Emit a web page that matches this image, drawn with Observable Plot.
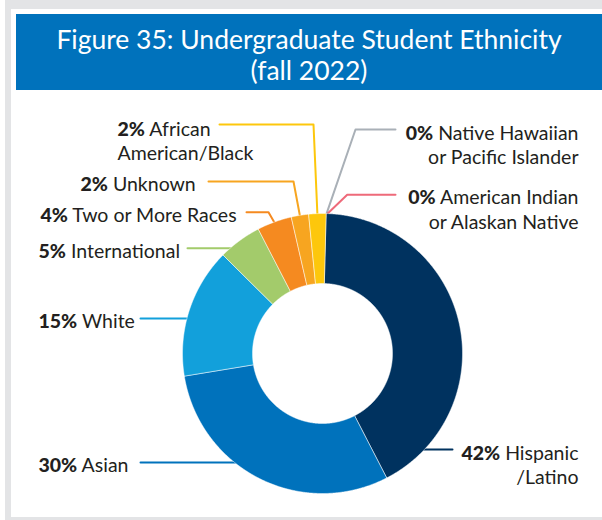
<!DOCTYPE html>
<html>
<head>
<meta charset="utf-8">
<script src="https://cdn.jsdelivr.net/npm/d3@7"></script>
<script src="https://cdn.jsdelivr.net/npm/@observablehq/plot@0.6"></script>
<style>
  body { margin: 0; background: #fff; }
  #wrap { position: relative; width: 602px; height: 520px; overflow: hidden; font-family: Lato, "Open Sans", sans-serif; }
  .band { position: absolute; background: #e3e4e6; }
  #title { position: absolute; left: 16px; top: 14px; width: 586px; height: 76px; box-sizing: border-box;
           background: #0072bc; color: #fff; text-align: center; font-size: 26.5px; line-height: 31px; padding-top: 10px; }
  #chart { position: absolute; left: 0; top: 90px; }
</style>
</head>
<body>
<div id="wrap">
  <div id="title"><div>Figure 35: Undergraduate Student Ethnicity</div><div>(fall 2022)</div></div>
  <div id="chart"></div>
  <div class="band" style="left:5px;top:0;width:597px;height:9px"></div>
  <div class="band" style="left:5px;top:0;width:6px;height:520px"></div>
  <div class="band" style="left:5px;top:517px;width:597px;height:3px"></div>
</div>
<script>
// ---- data ----
const categories = ["Hispanic/Latino", "Asian", "White", "International", "Two or More Races",
  "Unknown", "African American/Black", "Native Hawaiian or Pacific Islander", "American Indian or Alaskan Native"];
const values = [42, 30, 15, 5, 4, 2, 2, 0, 0];
const labelNames = ["Hispanic\n/Latino", "Asian", "White", "International", "Two or More Races",
  "Unknown", "African\nAmerican/Black", "Native Hawaiian\nor Pacific Islander", "American Indian\nor Alaskan Native"];
const colors = ["#00325f", "#0072bc", "#12a0db", "#a3cb6b", "#f58a20", "#f7a520", "#fdc70c", "#a9b0b7", "#ee6a7a"];

// ---- layout (page pixels) ----
const W = 602, H = 425, TOP = 90;
const CX = 322, CY = 353, R = 140, INNER = 0.5;
const OFFSET = 1.5 * Math.PI / 180;
const FS = 19.5;
const labelLayout = [
  {x: 578, y: 456, anchor: "end"},
  {x: 38, y: 468, anchor: "start"},
  {x: 38, y: 324.5, anchor: "start"},
  {x: 38, y: 254, anchor: "start"},
  {x: 40, y: 218.5, anchor: "start"},
  {x: 80, y: 187.5, anchor: "start"},
  {x: 117, y: 132, anchor: "start"},
  {x: 578, y: 136, anchor: "end"},
  {x: 578, y: 200.5, anchor: "end"}
];
const leaderLayout = [
  {pts: [[452, 449]], end: "circleRight"},
  {pts: [[140, 462]], end: "circleLeft"},
  {pts: [[140, 318]], end: "circleLeft"},
  {pts: [[187, 247.7]], end: "circleLeft"},
  {pts: [[246, 211.7], [268, 211.7]], end: "slice"},
  {pts: [[208, 181], [293, 181]], end: "slice"},
  {pts: [[219, 124], [313, 124]], end: "slice"},
  {pts: [[395, 129], [355, 129]], end: "slice"},
  {pts: [[395, 194.3], [346.7, 194.3]], end: "slice"}
];
const ux = px => (px - CX) / R;
const uy = py => (CY - py) / R;

// ---- donut geometry from values ----
const arcs = d3.pie().sort(null).startAngle(OFFSET).endAngle(2 * Math.PI + OFFSET)(values);
const slicePts = [];
arcs.forEach((a, i) => {
  const n = Math.max(2, Math.ceil((a.endAngle - a.startAngle) / 0.005));
  const ring = [];
  for (let k = 0; k <= n; k++) {
    const t = a.startAngle + (a.endAngle - a.startAngle) * k / n;
    ring.push([Math.sin(t), Math.cos(t)]);
  }
  for (let k = n; k >= 0; k--) {
    const t = a.startAngle + (a.endAngle - a.startAngle) * k / n;
    ring.push([INNER * Math.sin(t), INNER * Math.cos(t)]);
  }
  ring.push(ring[0]);
  if (values[i] > 0) ring.forEach(([x, y]) => slicePts.push({name: categories[i], x, y}));
});

// ---- leader lines ----
const leaderPts = [];
leaderLayout.forEach((L, i) => {
  const a = arcs[i];
  const pts = L.pts.map(([px, py]) => [ux(px), uy(py)]);
  let endPt;
  if (L.end === "slice") {
    const m = (a.startAngle + a.endAngle) / 2;
    endPt = [0.99 * Math.sin(m), 0.99 * Math.cos(m)];
  } else {
    const y = pts[0][1];
    const x = 0.98 * Math.sqrt(1 - y * y);
    endPt = [L.end === "circleLeft" ? -x : x, y];
  }
  [...pts, endPt].forEach(([x, y]) => leaderPts.push({name: categories[i], x, y}));
});

// ---- labels ----
const labels = categories.map((c, i) => ({
  name: c,
  text: `${values[i]}% ${labelNames[i]}`,
  x: ux(labelLayout[i].x),
  y: uy(labelLayout[i].y),
  anchor: labelLayout[i].anchor
}));

const textOpts = {x: "x", y: "y", text: "text", fontSize: FS, fill: "#231f20",
  lineAnchor: "top", dy: -0.71 * FS, lineHeight: 1.25, fontFamily: "Lato, 'Open Sans', sans-serif"};

const chart = Plot.plot({
  width: W, height: H,
  marginTop: 0, marginBottom: 0, marginLeft: 0, marginRight: 0,
  x: {domain: [ux(0), ux(W)], axis: null},
  y: {domain: [uy(TOP + H), uy(TOP)], axis: null},
  color: {domain: categories, range: colors},
  style: {background: "transparent", overflow: "visible"},
  marks: [
    Plot.line(leaderPts, {x: "x", y: "y", z: "name", stroke: "name", strokeWidth: 2, curve: "linear"}),
    Plot.line(slicePts, {x: "x", y: "y", z: "name", fill: "name", stroke: "white", strokeWidth: 0.5, curve: "linear"}),
    Plot.text(labels.filter(d => d.anchor === "start"), {...textOpts, textAnchor: "start"}),
    Plot.text(labels.filter(d => d.anchor === "end"), {...textOpts, textAnchor: "end"})
  ]
});

// bold percentages
const ns = "http://www.w3.org/2000/svg";
chart.querySelectorAll('g[aria-label="text"] text').forEach(t => {
  const first = t.querySelector("tspan") || t;
  const m = first.textContent.match(/^(\d+%)\s(.*)$/);
  if (m) {
    first.textContent = "";
    const b = document.createElementNS(ns, "tspan");
    b.setAttribute("font-weight", "900");
    b.textContent = m[1];
    first.appendChild(b);
    first.appendChild(document.createTextNode(" " + m[2]));
  }
});
document.getElementById("chart").appendChild(chart);
</script>
</body>
</html>
